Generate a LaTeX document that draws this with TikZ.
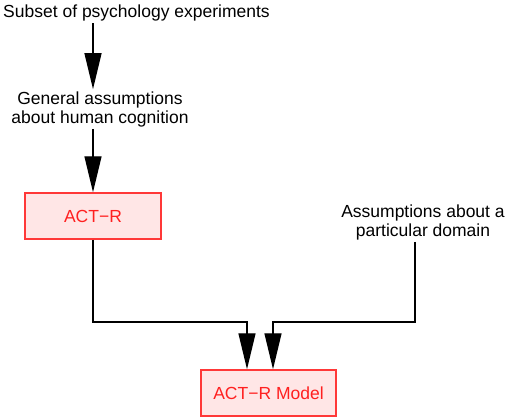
\documentclass[tikz,border=0pt]{standalone}
\usepackage{fontspec}
\setmainfont{Liberation Sans}
\usetikzlibrary{arrows.meta,calc}
\definecolor{boxfill}{HTML}{FFE6E6}
\definecolor{boxdraw}{HTML}{FF3838}
\definecolor{boxtext}{HTML}{FF2020}
\begin{document}
\begin{tikzpicture}[x=1pt,y=-1pt,
  every node/.style={font=\fontsize{17.5}{19}\selectfont, inner sep=2pt},
  lbl/.style={align=center},
  redbox/.style={draw=boxdraw, fill=boxfill, text=boxtext, line width=1.5pt,
    minimum width=136pt, minimum height=46pt, inner sep=0pt},
  arr/.style={line width=1.4pt, -{Triangle[width=17pt,length=36pt]}},
  ln/.style={line width=1.4pt}]
\useasboundingbox (0,0) rectangle (506,418);
\node[lbl] (subset) at (136.5,13) {Subset of psychology experiments};
\node[lbl] (general) at (100,109) {General assumptions\\about human cognition};
\node[redbox] (actr) at (93,216) {ACT−R};
\node[lbl] (assum) at (423,222) {Assumptions about a\\particular domain};
\node[redbox, minimum width=135pt] (model) at (268.5,393) {ACT−R Model};
\coordinate (j1) at (247,322);
\coordinate (j2) at (273,322);
\coordinate (j3) at (415,322);
\draw[arr] (subset.south -| actr.north) -- (general.north -| actr.north);
\draw[arr] (general.south -| actr.north) -- (actr.north);
\draw[arr] (actr.south) |- (j1) -- (model.north -| j1);
\draw[arr] (assum.south -| j3) -- (j3) -- (j2) -- (model.north -| j2);
\end{tikzpicture}
\end{document}
